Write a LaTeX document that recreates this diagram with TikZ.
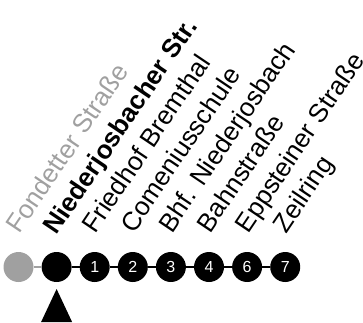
\documentclass[tikz,border=0pt]{standalone}
\usepackage{fontspec}
\setmainfont{Liberation Sans}
\usetikzlibrary{positioning}
\definecolor{cgray}{RGB}{160, 160, 160}
\tikzset{
	stop/.style={%
			circle,%
			fill=black,%
			minimum size=30pt,%
			inner sep=0pt,%
			text=white,%
			font={\fontsize{16}{16}\selectfont}},%
	stopname/.style={%
			rotate=56,%
			inner sep=0pt,%
			font={\fontsize{26}{26}\selectfont}},%
	track/.style={line width=2.5pt},%
}

\begin{document}
\begin{tikzpicture}[x=1pt, y=1pt, node distance=7.7pt]
	\useasboundingbox (0,0) rectangle (363,322);

	\node[stop, fill=cgray] (fon) at (18.5,55) {};
	\node[stop, right=of fon] (nie) {};
	\node[stop, right=of nie] (fri) {1};
	\node[stop, right=of fri] (com) {2};
	\node[stop, right=of com] (bhf) {3};
	\node[stop, right=of bhf] (bah) {4};
	\node[stop, right=of bah] (epp) {6};
	\node[stop, right=of epp] (zei) {7};

	\draw[track, cgray] (fon) -- (nie);
	\draw[track] (nie) -- (fri);
	\draw[track] (fri) -- (com);
	\draw[track] (com) -- (bhf);
	\draw[track] (bhf) -- (bah);
	\draw[track] (bah) -- (epp);
	\draw[track] (epp) -- (zei);

	\node[stopname, text=cgray, above=31pt of fon.center, anchor=base west, xshift=2pt] (fonname) {Fondetter Straße};
	\node[stopname, font={\fontsize{26}{26}\selectfont\bfseries}, above=31pt of nie.center, anchor=base west, xshift=0pt] (niename) {Niederjosbacher Str.};
	\node[stopname, above=31pt of fri.center, anchor=base west, xshift=2pt] (friname) {Friedhof Bremthal};
	\node[stopname, above=31pt of com.center, anchor=base west, xshift=2pt] (comname) {Comeniusschule};
	\node[stopname, above=31pt of bhf.center, anchor=base west, xshift=2pt] (bhfname) {Bhf. Niederjosbach};
	\node[stopname, above=31pt of bah.center, anchor=base west, xshift=2pt] (bahname) {Bahnstraße};
	\node[stopname, above=31pt of epp.center, anchor=base west, xshift=2pt] (eppname) {Eppsteiner Straße};
	\node[stopname, above=31pt of zei.center, anchor=base west, xshift=2pt] (zeiname) {Zeilring};

	% marker below the current stop
	\fill ([yshift=-22pt]nie.center) -- ++(-15.5,-33) -- ++(31,0) -- cycle;
\end{tikzpicture}
\end{document}
